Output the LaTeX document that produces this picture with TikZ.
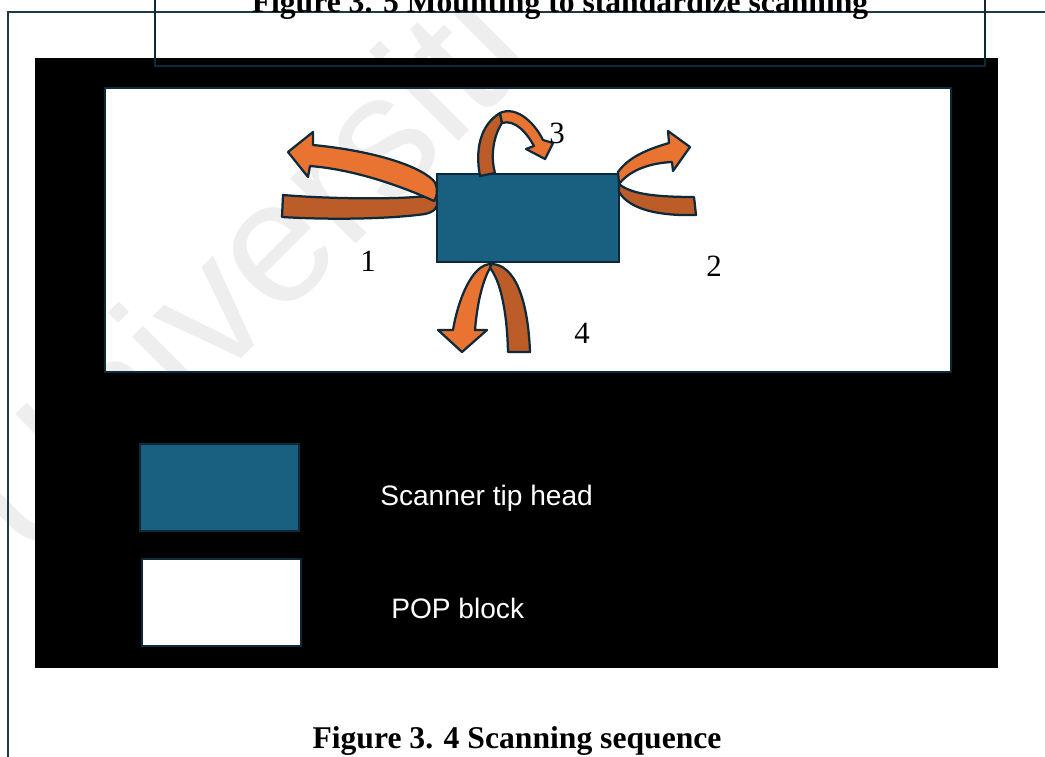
\documentclass[tikz,border=0pt]{standalone}
\usepackage{fontspec}
\setmainfont{Liberation Serif}
\newfontfamily\leyendafont{Liberation Sans}

\definecolor{azulcabezal}{RGB}{24,95,128}
\definecolor{bordeoscuro}{RGB}{14,42,58}
\definecolor{naranjaclaro}{RGB}{233,116,50}
\definecolor{naranjaoscuro}{RGB}{188,92,40}
\definecolor{marcagris}{RGB}{238,238,238}
\definecolor{lineamarco}{RGB}{30,58,74}

% marca de agua girada
\newcommand{\marcaagua}[1]{%
  \node[marca, anchor=base west, rotate=45] (#1) at (32,568) {Universiti};}

\begin{document}
\begin{tikzpicture}[x=0.025cm, y=-0.025cm,
    bloque/.style={draw=bordeoscuro, line width=1.4pt},
    cinta/.style={draw=bordeoscuro, line width=1.6pt, line join=round},
    frente/.style={cinta, fill=naranjaclaro},
    dorso/.style={cinta, fill=naranjaoscuro},
    numero/.style={font=\fontsize{22}{26}\selectfont, anchor=base, inner sep=0pt},
    leyenda/.style={font=\leyendafont\fontsize{20}{24}\selectfont, text=white, anchor=base west, inner sep=0pt},
    titulo/.style={font=\fontsize{22.5}{27}\selectfont\bfseries, anchor=base},
    marca/.style={font=\leyendafont\fontsize{124}{130}\selectfont, text=marcagris, inner sep=0pt}]

      \clip (0,0) rectangle (1045,756);
      \fill[white] (0,0) rectangle (1045,756);

      % Marca de agua
      \marcaagua{marcafondo}

      % Fondo negro y bloque de POP
      \fill[black] (35,58) rectangle (998,668);
      \fill[white] (105,88) rectangle (951,372);
      \begin{scope}
        \clip (105,88) rectangle (951,372);
        \marcaagua{marcabloque}
      \end{scope}
      \draw[bloque] (105,88) rectangle (951,372);

      % Marco de la pagina y recuadro del titulo de arriba
      \draw[lineamarco, line width=1.4pt] (1050,12) -- (8,12) -- (8,760);
      \draw[bordeoscuro, line width=1.4pt] (155,-10) -- (155,66) -- (985,66) -- (985,-10);
      \node[titulo] (tituloarriba) at (560,12) {Figure 3. 5 Mounting to standardize scanning};

      % Cabezal del escaner
      \draw[bloque, fill=azulcabezal] (437,174) rectangle (619,262);

      % Flecha 1 (izquierda)
      \draw[dorso] (283,195) .. controls (330,199) and (390,199) .. (415,197)
        .. controls (427,196) and (434,197) .. (437,201)
        .. controls (438,208) and (434,212) .. (425,214)
        .. controls (390,219) and (330,220) .. (282,217) -- cycle;
      \draw[frente] (434,201) .. controls (410,190) and (360,170) .. (310,166)
        -- (308,177) -- (288,152) -- (313,132) -- (313,145)
        .. controls (365,150) and (415,163) .. (433,180)
        .. controls (438,185) and (438,196) .. cycle;

      % Flecha 2 (derecha)
      \draw[dorso] (619,184) .. controls (630,193) and (650,197) .. (694,197)
        -- (696,215) .. controls (660,216) and (630,210) .. (619,192) -- cycle;
      \draw[frente] (618,172) .. controls (628,158) and (645,150) .. (669,143)
        -- (668,131) -- (690,147) -- (673,171) -- (672,162)
        .. controls (650,163) and (630,170) .. (619,184) -- cycle;

      % Flecha 3 (arriba)
      \draw[dorso] (480,176) .. controls (475,150) and (480,125) .. (500,113)
        -- (502,123) .. controls (494,135) and (490,155) .. (495,173) -- cycle;
      \draw[frente] (500,113) .. controls (515,106) and (533,120) .. (543,140)
        -- (553,143) -- (545,159) -- (526,149) -- (534,146)
        .. controls (527,133) and (515,119) .. (502,123) -- cycle;

      % Flecha 4 (abajo)
      \draw[dorso] (491,264) .. controls (515,264) and (528,300) .. (530,352)
        -- (508,352) .. controls (507,310) and (500,280) .. (490,268) -- cycle;
      \draw[frente] (491,264) .. controls (472,264) and (458,300) .. (453,330)
        -- (438,330) -- (462,352) -- (487,330) -- (475,330)
        .. controls (477,305) and (482,282) .. (490,268) -- cycle;

      % Numeros de la secuencia
      \node[numero] (num1) at (368,271) {1};
      \node[numero] (num2) at (714,276) {2};
      \node[numero] (num3) at (557,143) {3};
      \node[numero] (num4) at (582,343) {4};

      % Leyenda
      \draw[bloque, fill=azulcabezal] (140,444) rectangle (299,531);
      \draw[bloque, fill=white] (142,559) rectangle (301,646);
      \node[leyenda] (leyendacabezal) at (380,505) {Scanner tip head};
      \node[leyenda] (leyendabloque) at (391,618) {POP block};

      % Titulo de la figura
      \node[titulo] (titulofigura) at (517,748) {Figure 3. 4 Scanning sequence};
\end{tikzpicture}
\end{document}
